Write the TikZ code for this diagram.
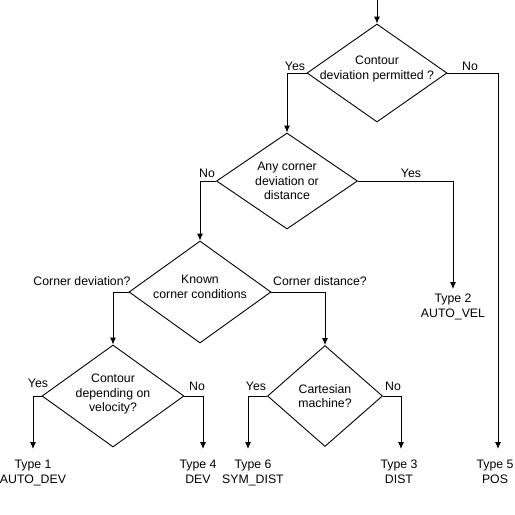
\documentclass[tikz,border=0pt]{standalone}
\usepackage{fontspec}
\setmainfont{Liberation Sans}
\usetikzlibrary{shapes.geometric,arrows.meta}

\begin{document}
\begin{tikzpicture}[x=1pt,y=-1pt,
    every node/.style={font=\fontsize{12.3}{14.5}\selectfont},
    decision/.style={diamond,draw,line width=0.9pt,inner sep=0pt},
    answer/.style={anchor=base,inner sep=0pt},
    typebox/.style={align=center,anchor=north,inner xsep=0pt,inner ysep=12pt},
    flow/.style={line width=0.9pt,-{Latex[length=7pt,width=6pt]}}]
  \useasboundingbox (0,0) rectangle (515,515);

  \coordinate (start) at (377,0);
  \node[decision,minimum width=140pt,minimum height=98pt,
        label={[align=center,yshift=4pt]center:Contour\\deviation permitted ?}] (contour) at (377,73) {};
  \node[decision,minimum width=141pt,minimum height=96pt,
        label={[align=center]center:Any corner\\deviation or\\distance}] (anycorner) at (287,181) {};
  \node[decision,minimum width=142pt,minimum height=102pt,
        label={[align=center,yshift=5pt]center:Known\\corner conditions}] (known) at (200,292) {};
  \node[decision,minimum width=142pt,minimum height=102pt,
        label={[align=center,yshift=2pt]center:Contour\\depending on\\velocity?}] (velocity) at (113,396) {};
  \node[decision,minimum width=115pt,minimum height=101pt,
        label={[align=center]center:Cartesian\\machine?}] (cartesian) at (325,396) {};

  \node[typebox,inner ysep=5pt] (type2) at (453,289) {Type 2\\AUTO\_VEL};
  \node[typebox,inner ysep=11pt] (type1) at (33,449) {Type 1\\AUTO\_DEV};
  \node[typebox,inner ysep=11pt] (type4) at (198,449) {Type 4\\DEV};
  \node[typebox,inner ysep=11pt] (type6) at (253,449) {Type 6\\SYM\_DIST};
  \node[typebox,inner ysep=11pt] (type3) at (399,449) {Type 3\\DIST};
  \node[typebox,inner ysep=11pt] (type5) at (495,449) {Type 5\\POS};

  \draw[flow] (start) -- (contour.north);
  \draw[flow] (contour.west) -| (anycorner.north);
  \node[answer] (yes1) at (295,70) {Yes};
  \draw[flow] (contour.east) -| ([xshift=3pt]type5.north);
  \node[answer] (no1) at (470,70) {No};

  \draw[flow] (anycorner.west) -| (known.north);
  \node[answer] (no2) at (207,177) {No};
  \draw[flow] (anycorner.east) -| (type2.north);
  \node[answer] (yes2) at (411,177) {Yes};

  \draw[flow] (known.west) -| (velocity.north);
  \node[answer] (cdev) at (82,285) {Corner deviation?};
  \draw[flow] (known.east) -| (cartesian.north);
  \node[answer] (cdist) at (320,285) {Corner distance?};

  \draw[flow] (velocity.west) -| (type1.north);
  \node[answer] (yes3) at (38,387) {Yes};
  \draw[flow] (velocity.east) -| ([xshift=5pt]type4.north);
  \node[answer] (no3) at (197,390) {No};

  \draw[flow] (cartesian.west) -| ([xshift=-5pt]type6.north);
  \node[answer] (yes4) at (256,390) {Yes};
  \draw[flow] (cartesian.east) -| ([xshift=2pt]type3.north);
  \node[answer] (no4) at (393,390) {No};
\end{tikzpicture}
\end{document}
